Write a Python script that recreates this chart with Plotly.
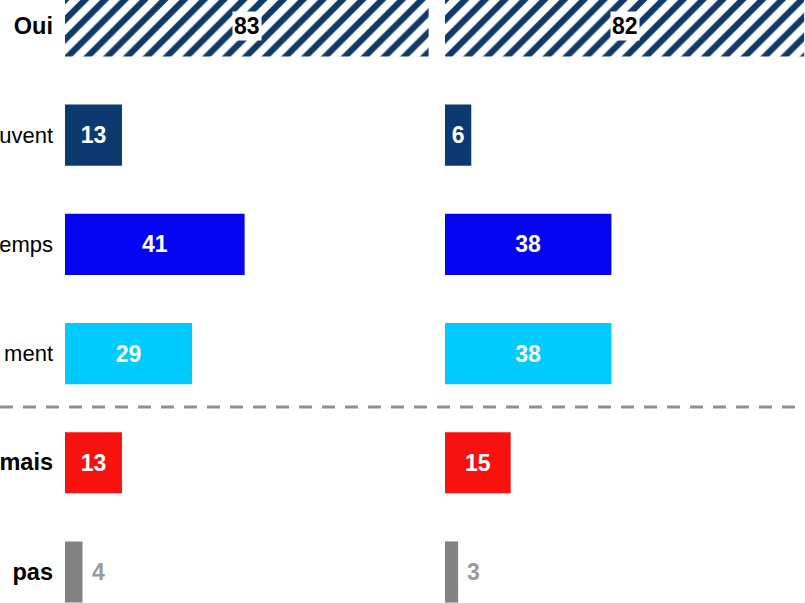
import plotly.graph_objects as go

# ---- data ----
tick_labels = ["<b>Oui</b>", "uvent", "emps", "ment", "<b>mais</b>", "<b>pas</b>"]
rows = [0, 1, 2, 3, 4, 5]
left_values = [83, 13, 41, 29, 13, 4]
right_values = [82, 6, 38, 38, 15, 3]
bar_colors = ["white", "#0c3a70", "#0505f2", "#00cbff", "#f7120f", "#828282"]

FONT = "Liberation Sans, Arial, sans-serif"
W, H = 805, 603

fig = go.Figure()

def add_panel(values, xa, ya):
    # hatched "Oui" bar
    fig.add_trace(go.Bar(
        x=[values[0]], y=[rows[0]], orientation="h", width=0.56,
        marker=dict(color="white", line=dict(width=0),
                    pattern=dict(shape="/", fgcolor="#123a68", bgcolor="white",
                                 fgopacity=1, fillmode="replace",
                                 size=14, solidity=0.45)),
        xaxis=xa, yaxis=ya, showlegend=False, hoverinfo="skip"))
    # solid bars with white labels inside
    fig.add_trace(go.Bar(
        x=values[1:5], y=rows[1:5], orientation="h", width=0.56,
        marker=dict(color=bar_colors[1:5], line=dict(width=0)),
        text=[str(v) for v in values[1:5]], textposition="inside",
        insidetextanchor="middle", constraintext="none",
        textfont=dict(family=FONT, size=23, color="white", weight="bold"),
        xaxis=xa, yaxis=ya, showlegend=False, hoverinfo="skip"))
    # gray "pas" bar
    fig.add_trace(go.Bar(
        x=[values[5]], y=[rows[5]], orientation="h", width=0.56,
        marker=dict(color=bar_colors[5], line=dict(width=0)),
        xaxis=xa, yaxis=ya, showlegend=False, hoverinfo="skip"))
    xref = "x" if xa == "x" else "x2"
    yref = "y" if ya == "y" else "y2"
    # label of hatched bar with white background
    fig.add_annotation(x=values[0] / 2, y=rows[0], xref=xref, yref=yref,
                       text="<b>%d</b>" % values[0], showarrow=False,
                       bgcolor="white", borderpad=1,
                       font=dict(family=FONT, size=23, color="black"))
    # gray outside label
    fig.add_annotation(x=values[5], y=rows[5], xref=xref, yref=yref,
                       text="<b>%d</b>" % values[5], showarrow=False,
                       xanchor="left", xshift=7,
                       font=dict(family=FONT, size=23, color="#9a9a9a"))

add_panel(left_values, "x", "y")
add_panel(right_values, "x2", "y2")

ticktext = [("<span style='font-size:23.5px'>%s</span>" % t) if t.startswith("<b>") else t
            for t in tick_labels]

yrange = [5.284, -0.238]
fig.update_layout(
    width=W, height=H,
    margin=dict(l=0, r=0, t=0, b=0),
    paper_bgcolor="white", plot_bgcolor="white",
    barmode="overlay",
    xaxis=dict(domain=[65 / W, 433 / W], range=[0, 84], visible=False, fixedrange=True),
    xaxis2=dict(domain=[445 / W, 1], range=[0, 82.2], visible=False, fixedrange=True),
    yaxis=dict(anchor="x", range=yrange, tickmode="array", tickvals=rows,
               ticktext=ticktext, showgrid=False, zeroline=False, showline=False,
               ticks="", ticklabelstandoff=11,
               tickfont=dict(family=FONT, size=22, color="black"), automargin=False),
    yaxis2=dict(anchor="x2", range=yrange, showticklabels=False, showgrid=False,
                zeroline=False, showline=False, ticks=""),
    shapes=[dict(type="line", xref="paper", yref="y", x0=0, x1=1, y0=3.49, y1=3.49,
                 line=dict(color="#8f8f8f", width=3, dash="13px,10px"))],
)

fig.write_html("out.html", config={"displayModeBar": False, "staticPlot": True},
               post_script="document.body.style.margin='0';document.body.style.overflow='hidden';")
